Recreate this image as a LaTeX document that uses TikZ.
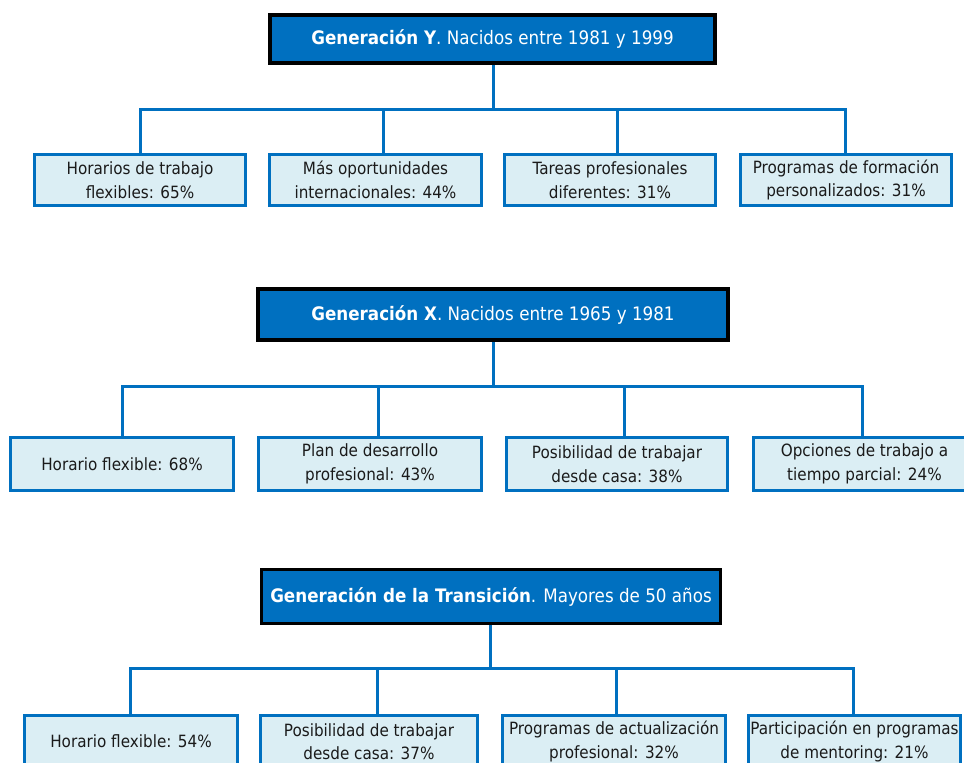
\documentclass[tikz,border=0pt]{standalone}
\usepackage{fontspec}
\setmainfont{DejaVu Sans}[FakeStretch=0.9]
\usetikzlibrary{backgrounds}
\definecolor{hblue}{HTML}{0070C0}
\definecolor{cfill}{HTML}{DBEEF4}
\definecolor{ctext}{HTML}{1A1A1A}
\begin{document}
\begin{tikzpicture}[x=1pt,y=-1pt,
  head/.style={draw=black, line width=3.5pt, fill=hblue, text=white, inner sep=0pt, outer sep=0pt,
    font=\fontsize{18.6}{22}\selectfont},
  child/.style={draw=hblue, line width=3pt, fill=cfill, text=ctext, align=center, inner sep=0pt, outer sep=0pt,
    font=\fontsize{16.9}{23.5}\selectfont},
  conn/.style={draw=hblue, line width=3pt}]
\useasboundingbox (0,0) rectangle (964,763);

% ---------- Generation Y ----------
\node[head, minimum width=445pt, minimum height=48pt] (hy) at (492.5,39)
  {\textbf{Generación Y}. Nacidos entre 1981 y 1999};
\node[child, minimum width=211pt, minimum height=51pt] (y1) at (140,180)
  {Horarios de trabajo\\flexibles: 65\%};
\node[child, minimum width=212pt, minimum height=51pt] (y2) at (375.5,180)
  {Más oportunidades\\internacionales: 44\%};
\node[child, minimum width=211pt, minimum height=51pt] (y3) at (610,180)
  {Tareas profesionales\\diferentes: 31\%};
\node[child, minimum width=211pt, minimum height=51pt] (y4) at (846,180)
  {Programas de formación\\personalizados: 31\%};

% ---------- Generation X ----------
\node[head, minimum width=470pt, minimum height=51pt] (hx) at (493,314.5)
  {\textbf{Generación X}. Nacidos entre 1965 y 1981};
\node[child, minimum width=223pt, minimum height=53pt] (x1) at (122,464)
  {Horario flexible: 68\%};
\node[child, minimum width=223pt, minimum height=53pt] (x2) at (370,464)
  {Plan de desarrollo\\profesional: 43\%};
\node[child, minimum width=221pt, minimum height=53pt] (x3) at (617,464)
  {Posibilidad de trabajar\\desde casa: 38\%};
\node[child, minimum width=222pt, minimum height=53pt] (x4) at (864.5,464)
  {Opciones de trabajo a\\tiempo parcial: 24\%};

% ---------- Transition generation ----------
\node[head, minimum width=459pt, minimum height=54pt] (ht) at (491,596.5)
  {\textbf{Generación de la Transición}. Mayores de 50 años};
\node[child, minimum width=213pt, minimum height=53pt] (t1) at (131,741.5)
  {Horario flexible: 54\%};
\node[child, minimum width=217pt, minimum height=53pt] (t2) at (369,741.5)
  {Posibilidad de trabajar\\desde casa: 37\%};
\node[child, minimum width=223pt, minimum height=53pt] (t3) at (614,741.5)
  {Programas de actualización\\profesional: 32\%};
\node[child, minimum width=212pt, minimum height=53pt] (t4) at (854.5,741.5)
  {Participación en programas\\de mentoring: 21\%};

\begin{pgfonlayer}{background}
  % Y
  \draw[conn] ([xshift=0.5pt]hy.south) -- ++(0,46) coordinate (by);
  \draw[conn] (y1.north) |- (by) -| ([xshift=-1pt]y4.north);
  \draw[conn] ([xshift=7.5pt]y2.north) |- (by);
  \draw[conn] ([xshift=7pt]y3.north) |- (by);
  % X
  \draw[conn] (hx.south) -- ++(0,46.5) coordinate (bx);
  \draw[conn] (x1.north) |- (bx) -| ([xshift=-2.5pt]x4.north);
  \draw[conn] ([xshift=8pt]x2.north) |- (bx);
  \draw[conn] ([xshift=7pt]x3.north) |- (bx);
  % T
  \draw[conn] ([xshift=-1pt]ht.south) -- ++(0,45) coordinate (bt);
  \draw[conn] ([xshift=-1pt]t1.north) |- (bt) -| ([xshift=-1.5pt]t4.north);
  \draw[conn] ([xshift=8pt]t2.north) |- (bt);
  \draw[conn] ([xshift=2pt]t3.north) |- (bt);
\end{pgfonlayer}
\end{tikzpicture}
\end{document}
